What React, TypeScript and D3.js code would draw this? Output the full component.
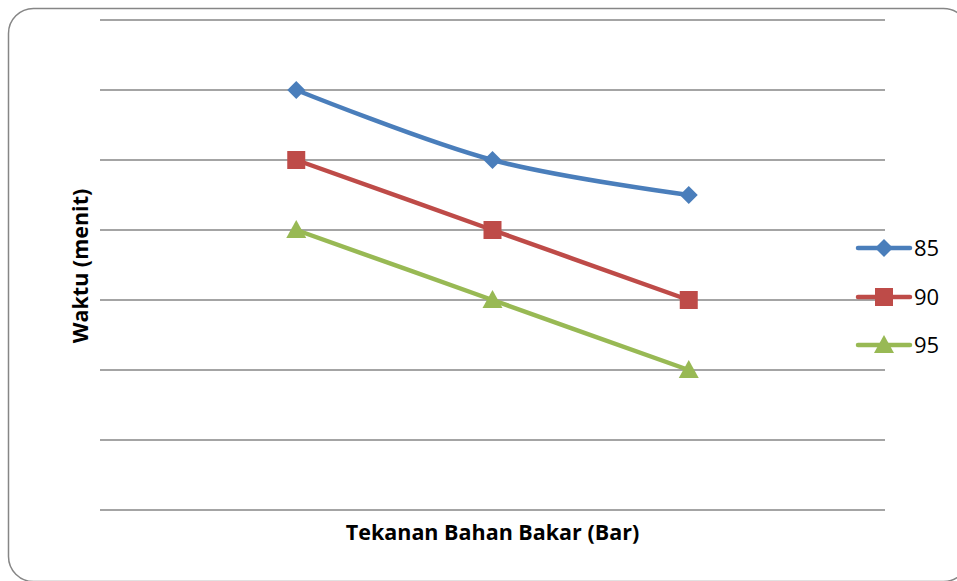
import React from "react";
import * as d3 from "d3";

const categories = ["", "1", "2", "3", ""];
const seriesNames = ["85", "90", "95"];
const values85 = [null, 6, 5, 4.5, null];
const values90 = [null, 5, 4, 3, null];
const values95 = [null, 4, 3, 2, null];
const yTicks = [0, 1, 2, 3, 4, 5, 6, 7];
const colors = ["#4A7EBB", "#BE4B48", "#98B954"];
const markers = ["diamond", "square", "triangle"];

const W = 957;
const H = 581;
const left = 100;
const right = 885;
const top = 20;
const bottom = 510;

function Marker({ type, x, y, color }: { type: string; x: number; y: number; color: string }) {
  if (type === "diamond") {
    const s = 9;
    return <path d={`M${x},${y - s}L${x + s},${y}L${x},${y + s}L${x - s},${y}Z`} fill={color} />;
  }
  if (type === "square") {
    const s = 9;
    return <rect x={x - s} y={y - s} width={2 * s} height={2 * s} fill={color} />;
  }
  const s = 10;
  return <path d={`M${x},${y - s}L${x + s},${y + s * 0.8}L${x - s},${y + s * 0.8}Z`} fill={color} />;
}

export default function App() {
  const x = d3.scalePoint<string>().domain(categories.map((c, i) => String(i))).range([left, right]);
  const y = d3.scaleLinear().domain([0, 7]).range([bottom, top]);
  const allSeries = [values85, values90, values95];
  const line = d3
    .line<[number, number | null]>()
    .defined((d) => d[1] != null)
    .x((d) => x(String(d[0]))!)
    .y((d) => y(d[1] as number))
    .curve(d3.curveCatmullRom.alpha(0));

  const legendY = [248, 297, 345];

  return (
    <svg width={W} height={H} style={{ display: "block", position: "absolute", left: 0, top: 0 }}>
      <rect x={0} y={0} width={W} height={H} fill="#fff" />
      <rect x={8.5} y={8.5} width={960} height={573} rx={25} ry={25} fill="#fff" stroke="#868686" strokeWidth={1.5} />
      {yTicks.map((t) => (
        <line key={t} x1={left} x2={right} y1={y(t)} y2={y(t)} stroke="#868686" strokeWidth={1.5} />
      ))}
      {allSeries.map((vals, si) => {
        const data = vals.map((v, i) => [i, v] as [number, number | null]);
        return (
          <g key={si}>
            <path d={line(data) || ""} fill="none" stroke={colors[si]} strokeWidth={4.5} strokeLinejoin="round" strokeLinecap="round" />
            {data
              .filter((d) => d[1] != null)
              .map((d) => (
                <Marker key={d[0]} type={markers[si]} x={x(String(d[0]))!} y={y(d[1] as number)} color={colors[si]} />
              ))}
          </g>
        );
      })}
      {seriesNames.map((n, i) => (
        <g key={n}>
          <line x1={858} x2={910} y1={legendY[i]} y2={legendY[i]} stroke={colors[i]} strokeWidth={4.5} strokeLinecap="round" />
          <Marker type={markers[i]} x={884} y={legendY[i]} color={colors[i]} />
          <text x={914} y={legendY[i]} dy="0.35em" fontFamily="'Open Sans', Lato, sans-serif" fontSize={22} fill="#000">
            {n}
          </text>
        </g>
      ))}
      <text x={(left + right) / 2} y={532} textAnchor="middle" dy="0.35em" fontFamily="'Open Sans', Lato, sans-serif" fontWeight="bold" fontSize={21.5} fill="#000">
        Tekanan Bahan Bakar (Bar)
      </text>
      <text transform={`translate(80,266) rotate(-90)`} textAnchor="middle" dy="0.35em" fontFamily="'Open Sans', Lato, sans-serif" fontWeight="bold" fontSize={21.5} fill="#000">
        Waktu (menit)
      </text>
    </svg>
  );
}
